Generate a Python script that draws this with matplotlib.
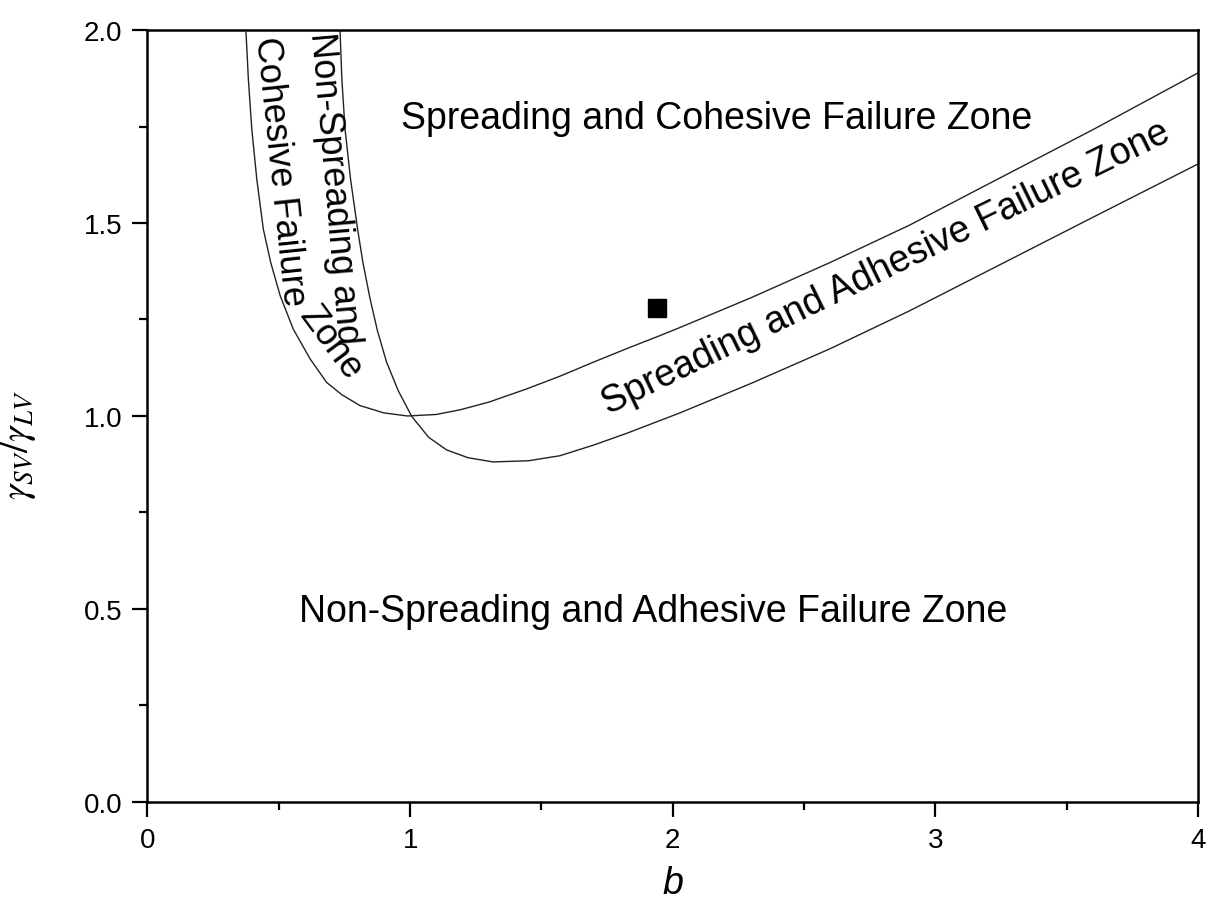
import matplotlib

matplotlib.use("Agg")
import matplotlib.pyplot as plt
from matplotlib.ticker import MultipleLocator

# boundary curves
b_cohesive = [0.375, 0.384, 0.397, 0.416, 0.441, 0.469, 0.505, 0.555, 0.619, 0.682,
              0.74, 0.809, 0.90, 0.99, 1.10, 1.19, 1.30, 1.443, 1.57, 1.696,
              1.83, 1.95, 2.03, 2.3, 2.6, 2.9, 3.17, 3.6, 4.0]
y_cohesive = [1.994, 1.873, 1.744, 1.614, 1.484, 1.398, 1.312, 1.225, 1.148, 1.087,
              1.055, 1.027, 1.008, 1.0, 1.004, 1.016, 1.036, 1.070, 1.103, 1.139,
              1.176, 1.208, 1.23, 1.307, 1.398, 1.494, 1.59, 1.742, 1.889]

b_spread = [0.733, 0.740, 0.752, 0.773, 0.80, 0.82, 0.847, 0.875, 0.91, 0.955,
            1.006, 1.07, 1.139, 1.22, 1.315, 1.45, 1.57, 1.70, 1.824, 2.027,
            2.3, 2.598, 2.9, 3.168, 3.6, 4.0]
y_spread = [2.0, 1.873, 1.744, 1.614, 1.484, 1.398, 1.305, 1.222, 1.14, 1.065,
            0.999, 0.945, 0.912, 0.892, 0.881, 0.884, 0.897, 0.925, 0.955, 1.008,
            1.085, 1.174, 1.272, 1.365, 1.515, 1.653]

# measured point
b_point = [1.94]
y_point = [1.28]

plt.rcParams["font.family"] = ["Liberation Sans", "DejaVu Sans"]
plt.rcParams["mathtext.fontset"] = "stix"

fig = plt.figure(figsize=(12.09, 9.2), dpi=100)
ax = fig.add_axes([0.122, 0.1272, 0.869, 0.8391])

ax.plot(b_cohesive, y_cohesive, color="#222222", lw=1.0)
ax.plot(b_spread, y_spread, color="#222222", lw=1.0)
ax.plot(b_point, y_point, "s", color="black", ms=13)

txt = dict(fontsize=27, color="black")
ax.text(2.166, 1.746, "Spreading and Cohesive Failure Zone", ha="center", va="baseline", **txt)
ax.text(1.924, 0.4697, "Non-Spreading and Adhesive Failure Zone", ha="center", va="baseline", **txt)
ax.text(2.81, 1.386, "Spreading and Adhesive Failure Zone", ha="center", va="center",
        rotation=26, rotation_mode="anchor", **txt)

# labels inside the narrow band on the left
vtxt = dict(fontsize=26, color="black", ha="center", va="center", rotation_mode="anchor")
ax.text(0.712, 1.592, "Non-Spreading and", rotation=-85, **vtxt)
ax.text(0.504, 1.637, "Cohesive Failure", rotation=-84, **vtxt)
ax.text(0.697, 1.19, "Zone", rotation=-53.5, **vtxt)

ax.set_xlim(0, 4)
ax.set_ylim(0, 2.0)
ax.xaxis.set_major_locator(MultipleLocator(1))
ax.xaxis.set_minor_locator(MultipleLocator(0.5))
ax.yaxis.set_major_locator(MultipleLocator(0.5))
ax.yaxis.set_minor_locator(MultipleLocator(0.25))
ax.xaxis.set_major_formatter(plt.FormatStrFormatter("%d"))
ax.yaxis.set_major_formatter(plt.FormatStrFormatter("%.1f"))

ax.tick_params(which="major", direction="out", length=11, width=1.6, labelsize=20, pad=7)
ax.tick_params(which="minor", direction="out", length=6, width=1.6)
for s in ax.spines.values():
    s.set_linewidth(1.8)

ax.set_xlabel("b", fontsize=27, fontstyle="italic")
ax.xaxis.set_label_coords(0.5, -0.082)
ax.set_ylabel(r"$\gamma_{SV}/\gamma_{LV}$", fontsize=28)
ax.yaxis.set_label_coords(-0.104, 0.464)

fig.savefig("out.png", dpi=100)
plt.close(fig)
